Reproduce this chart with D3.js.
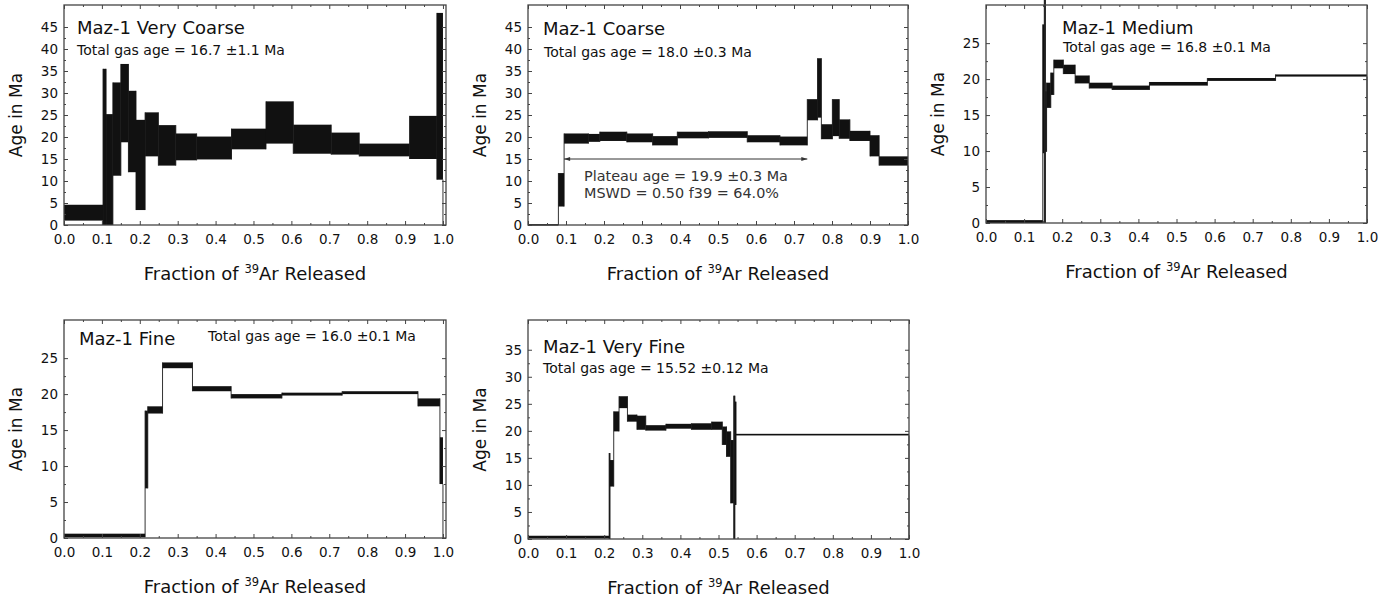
<!DOCTYPE html>
<html>
<head>
<meta charset="utf-8">
<script src="https://cdn.jsdelivr.net/npm/d3@7"></script>
<style>
body{margin:0;background:#fff;}
</style>
</head>
<body>
<script>
// step edges (cumulative fraction of 39Ar), ages and 2-sigma errors in Ma
const vcEdges = [0, 0.103, 0.111, 0.129, 0.150, 0.170, 0.190, 0.214, 0.249, 0.295, 0.350, 0.442, 0.533, 0.605, 0.705, 0.779, 0.912, 0.984, 1.0];
const vcAge = [2.8, 17.75, 12.6, 21.8, 27.7, 21.25, 13.65, 20.6, 18.1, 17.75, 17.5, 19.55, 23.3, 19.5, 18.5, 17.05, 19.9, 29.25];
const vcErr = [1.8, 17.75, 12.6, 10.6, 8.9, 9.25, 10.25, 5.0, 4.6, 3.05, 2.6, 2.35, 4.8, 3.3, 2.5, 1.45, 4.9, 18.95];

const coEdges = [0, 0.080, 0.095, 0.159, 0.189, 0.260, 0.328, 0.393, 0.475, 0.577, 0.663, 0.735, 0.762, 0.772, 0.801, 0.819, 0.847, 0.900, 0.924, 1.0];
const coAge = [0.1, 8.0, 19.65, 19.8, 20.15, 19.8, 19.15, 20.45, 20.55, 19.6, 19.1, 26.2, 31.15, 21.2, 24.4, 21.8, 20.25, 18.0, 14.55];
const coErr = [0.1, 3.8, 1.15, 0.9, 1.05, 1.0, 1.05, 0.75, 0.75, 0.8, 1.0, 2.4, 6.75, 1.7, 4.2, 2.2, 1.15, 2.4, 1.05];
const coPlateau = [0.095, 0.735];

const meEdges = [0, 0.149, 0.153, 0.156, 0.159, 0.170, 0.178, 0.203, 0.234, 0.271, 0.331, 0.429, 0.581, 0.760, 1.0];
const meAge = [0.2, 18.65, 15.5, 14.1, 17.75, 19.35, 22.1, 21.35, 19.95, 19.1, 18.8, 19.35, 19.95, 20.5];
const meErr = [0.2, 8.95, 15.5, 4.2, 1.75, 1.55, 0.6, 0.65, 0.55, 0.4, 0.3, 0.25, 0.2, 0.15];

const fiEdges = [0, 0.214, 0.221, 0.260, 0.339, 0.441, 0.575, 0.734, 0.934, 0.992, 1.0];
const fiAge = [0.35, 12.3, 17.8, 24.0, 20.75, 19.7, 20.0, 20.2, 18.85, 10.75];
const fiErr = [0.25, 5.4, 0.5, 0.4, 0.35, 0.3, 0.2, 0.2, 0.55, 3.25];

const vfEdges = [0, 0.213, 0.215, 0.225, 0.239, 0.261, 0.286, 0.309, 0.362, 0.429, 0.482, 0.510, 0.521, 0.532, 0.540, 0.543, 0.546, 1.0];
const vfAge = [0.35, 7.95, 12.15, 21.75, 25.3, 22.35, 21.5, 20.55, 20.85, 20.8, 20.95, 19.1, 17.55, 12.45, 13.25, 15.85, 19.3];
const vfErr = [0.25, 7.95, 2.45, 1.85, 1.1, 0.65, 1.3, 0.5, 0.45, 0.6, 0.75, 1.7, 2.35, 5.85, 13.25, 9.55, 0.15];

// tick labels
const xTicks = [0, 0.1, 0.2, 0.3, 0.4, 0.5, 0.6, 0.7, 0.8, 0.9, 1.0];
const yTicks45 = [0, 5, 10, 15, 20, 25, 30, 35, 40, 45];
const yTicks25 = [0, 5, 10, 15, 20, 25];
const yTicks35 = [0, 5, 10, 15, 20, 25, 30, 35];

const FONT = "'DejaVu Sans', sans-serif";

function midpoints(arr){
    return arr.slice(1).map((t,i) => (t + arr[i]) / 2);
}

function drawPanel(svg, p){
    const x = d3.scaleLinear().domain([0, p.xMax]).range([p.left, p.right]);
    const y = d3.scaleLinear().domain([0, p.yMax]).range([p.bottom, p.top]);
    const g = svg.append("g");

    const steps = p.ages.map((a,i) => ({x0: p.edges[i], x1: p.edges[i+1], lo: a - p.errs[i], hi: a + p.errs[i]}));

    // thin connecting lines between steps
    const links = [];
    for(let i = 0; i < steps.length - 1; i++){
        const s = steps[i], t = steps[i+1];
        links.push({x: s.x1, lo: Math.min(s.lo, t.lo), hi: Math.max(s.hi, t.hi)});
    }
    const last = steps[steps.length - 1];
    links.push({x: last.x1, lo: 0, hi: last.lo});

    g.selectAll(".link").data(links).enter().append("line")
        .attr("x1", d => x(d.x)).attr("x2", d => x(d.x))
        .attr("y1", d => y(d.lo)).attr("y2", d => y(d.hi))
        .attr("stroke", "#333").attr("stroke-width", 1);

    g.selectAll(".step").data(steps).enter().append("rect")
        .attr("x", d => x(d.x0))
        .attr("width", d => Math.max(x(d.x1) - x(d.x0), 1))
        .attr("y", d => y(d.hi))
        .attr("height", d => Math.max(y(d.lo) - y(d.hi), 1.5))
        .attr("fill", "#111");

    // axes with inward ticks
    const axes = g.append("g").attr("color", "#444");
    axes.append("g").attr("transform", `translate(0,${p.bottom})`)
        .call(d3.axisBottom(x).tickValues(xTicks).tickFormat(d3.format(".1f")).tickSizeInner(-4).tickSizeOuter(0).tickPadding(9));
    axes.append("g").attr("transform", `translate(0,${p.bottom})`)
        .call(d3.axisBottom(x).tickValues(midpoints(xTicks)).tickFormat("").tickSizeInner(-2).tickSizeOuter(0));
    axes.append("g").attr("transform", `translate(0,${p.top})`)
        .call(d3.axisTop(x).tickValues(xTicks).tickFormat("").tickSizeInner(-4).tickSizeOuter(0));
    axes.append("g").attr("transform", `translate(0,${p.top})`)
        .call(d3.axisTop(x).tickValues(midpoints(xTicks)).tickFormat("").tickSizeInner(-2).tickSizeOuter(0));
    axes.append("g").attr("transform", `translate(${p.left},0)`)
        .call(d3.axisLeft(y).tickValues(p.yTicks).tickSizeInner(-4).tickSizeOuter(0).tickPadding(6));
    axes.append("g").attr("transform", `translate(${p.left},0)`)
        .call(d3.axisLeft(y).tickValues(midpoints(p.yTicks)).tickFormat("").tickSizeInner(-2).tickSizeOuter(0));
    axes.append("g").attr("transform", `translate(${p.right},0)`)
        .call(d3.axisRight(y).tickValues(p.yTicks).tickFormat("").tickSizeInner(-4).tickSizeOuter(0));
    axes.append("g").attr("transform", `translate(${p.right},0)`)
        .call(d3.axisRight(y).tickValues(midpoints(p.yTicks)).tickFormat("").tickSizeInner(-2).tickSizeOuter(0));
    axes.selectAll(".domain").remove();
    axes.selectAll("text")
        .attr("fill", "#111")
        .attr("font-family", FONT)
        .attr("font-size", 13.5);

    g.append("rect")
        .attr("x", p.left).attr("y", p.top)
        .attr("width", p.right - p.left).attr("height", p.bottom - p.top)
        .attr("fill", "none").attr("stroke", "#444").attr("stroke-width", 1.3);

    // axis titles
    g.append("text")
        .attr("transform", `translate(${p.left - 42},${(p.top + p.bottom) / 2}) rotate(-90)`)
        .attr("text-anchor", "middle")
        .attr("font-family", FONT).attr("font-size", 17).attr("fill", "#111")
        .text("Age in Ma");

    const xt = g.append("text")
        .attr("x", (p.left + p.right) / 2).attr("y", p.bottom + 55)
        .attr("text-anchor", "middle")
        .attr("font-family", FONT).attr("font-size", 18).attr("fill", "#111");
    xt.append("tspan").text("Fraction of ");
    xt.append("tspan").attr("font-size", 11.5).attr("dy", -7).text("39");
    xt.append("tspan").attr("dy", 7).text("Ar Released");

    // labels
    g.append("text")
        .attr("x", p.titleX).attr("y", p.titleY)
        .attr("font-family", FONT).attr("font-size", 18).attr("fill", "#111")
        .text(p.title);
    g.append("text")
        .attr("x", p.gasX).attr("y", p.gasY)
        .attr("font-family", FONT).attr("font-size", 14).attr("fill", "#111")
        .text(p.gas);

    return {g: g, x: x, y: y};
}

function main(){
    const svg = d3.select("body").append("svg")
        .attr("width", 1394)
        .attr("height", 601);

    svg.append("defs").append("marker")
        .attr("id", "arrow")
        .attr("viewBox", "0 0 10 10")
        .attr("refX", 10).attr("refY", 5)
        .attr("markerWidth", 8).attr("markerHeight", 6)
        .attr("orient", "auto-start-reverse")
        .append("path").attr("d", "M0,1.5L10,5L0,8.5Z").attr("fill", "#333");

    drawPanel(svg, {edges: vcEdges, ages: vcAge, errs: vcErr, xMax: 1.008, yMax: 50, yTicks: yTicks45,
        left: 64, right: 446, top: 5, bottom: 225,
        title: "Maz-1 Very Coarse", titleX: 77, titleY: 34,
        gas: "Total gas age = 16.7 \u00b11.1 Ma", gasX: 77, gasY: 55});

    const co = drawPanel(svg, {edges: coEdges, ages: coAge, errs: coErr, xMax: 1.0, yMax: 50, yTicks: yTicks45,
        left: 528, right: 908, top: 5, bottom: 225,
        title: "Maz-1 Coarse", titleX: 543, titleY: 35,
        gas: "Total gas age = 18.0 \u00b10.3 Ma", gasX: 544, gasY: 57});

    // plateau arrow and label
    co.g.append("line")
        .attr("x1", co.x(coPlateau[0])).attr("x2", co.x(coPlateau[1]))
        .attr("y1", co.y(15)).attr("y2", co.y(15))
        .attr("stroke", "#333").attr("stroke-width", 1)
        .attr("marker-start", "url(#arrow)").attr("marker-end", "url(#arrow)");
    co.g.append("text")
        .attr("x", 584).attr("y", 181)
        .attr("font-family", FONT).attr("font-size", 14.4).attr("fill", "#333")
        .text("Plateau age = 19.9 \u00b10.3 Ma");
    co.g.append("text")
        .attr("x", 584).attr("y", 198)
        .attr("font-family", FONT).attr("font-size", 14.4).attr("fill", "#333")
        .text("MSWD = 0.50 f39 = 64.0%");

    drawPanel(svg, {edges: meEdges, ages: meAge, errs: meErr, xMax: 1.0, yMax: 30.3, yTicks: yTicks25,
        left: 986, right: 1367, top: 5, bottom: 223,
        title: "Maz-1 Medium", titleX: 1062, titleY: 34,
        gas: "Total gas age = 16.8 \u00b10.1 Ma", gasX: 1063, gasY: 52});

    drawPanel(svg, {edges: fiEdges, ages: fiAge, errs: fiErr, xMax: 1.008, yMax: 30.3, yTicks: yTicks25,
        left: 64, right: 446, top: 320, bottom: 538,
        title: "Maz-1 Fine", titleX: 79, titleY: 345,
        gas: "Total gas age = 16.0 \u00b10.1 Ma", gasX: 208, gasY: 341});

    drawPanel(svg, {edges: vfEdges, ages: vfAge, errs: vfErr, xMax: 1.0, yMax: 40.5, yTicks: yTicks35,
        left: 528, right: 909, top: 320, bottom: 539,
        title: "Maz-1 Very Fine", titleX: 543, titleY: 353,
        gas: "Total gas age = 15.52 \u00b10.12 Ma", gasX: 543, gasY: 373});
}
main();
</script>
</body>
</html>
